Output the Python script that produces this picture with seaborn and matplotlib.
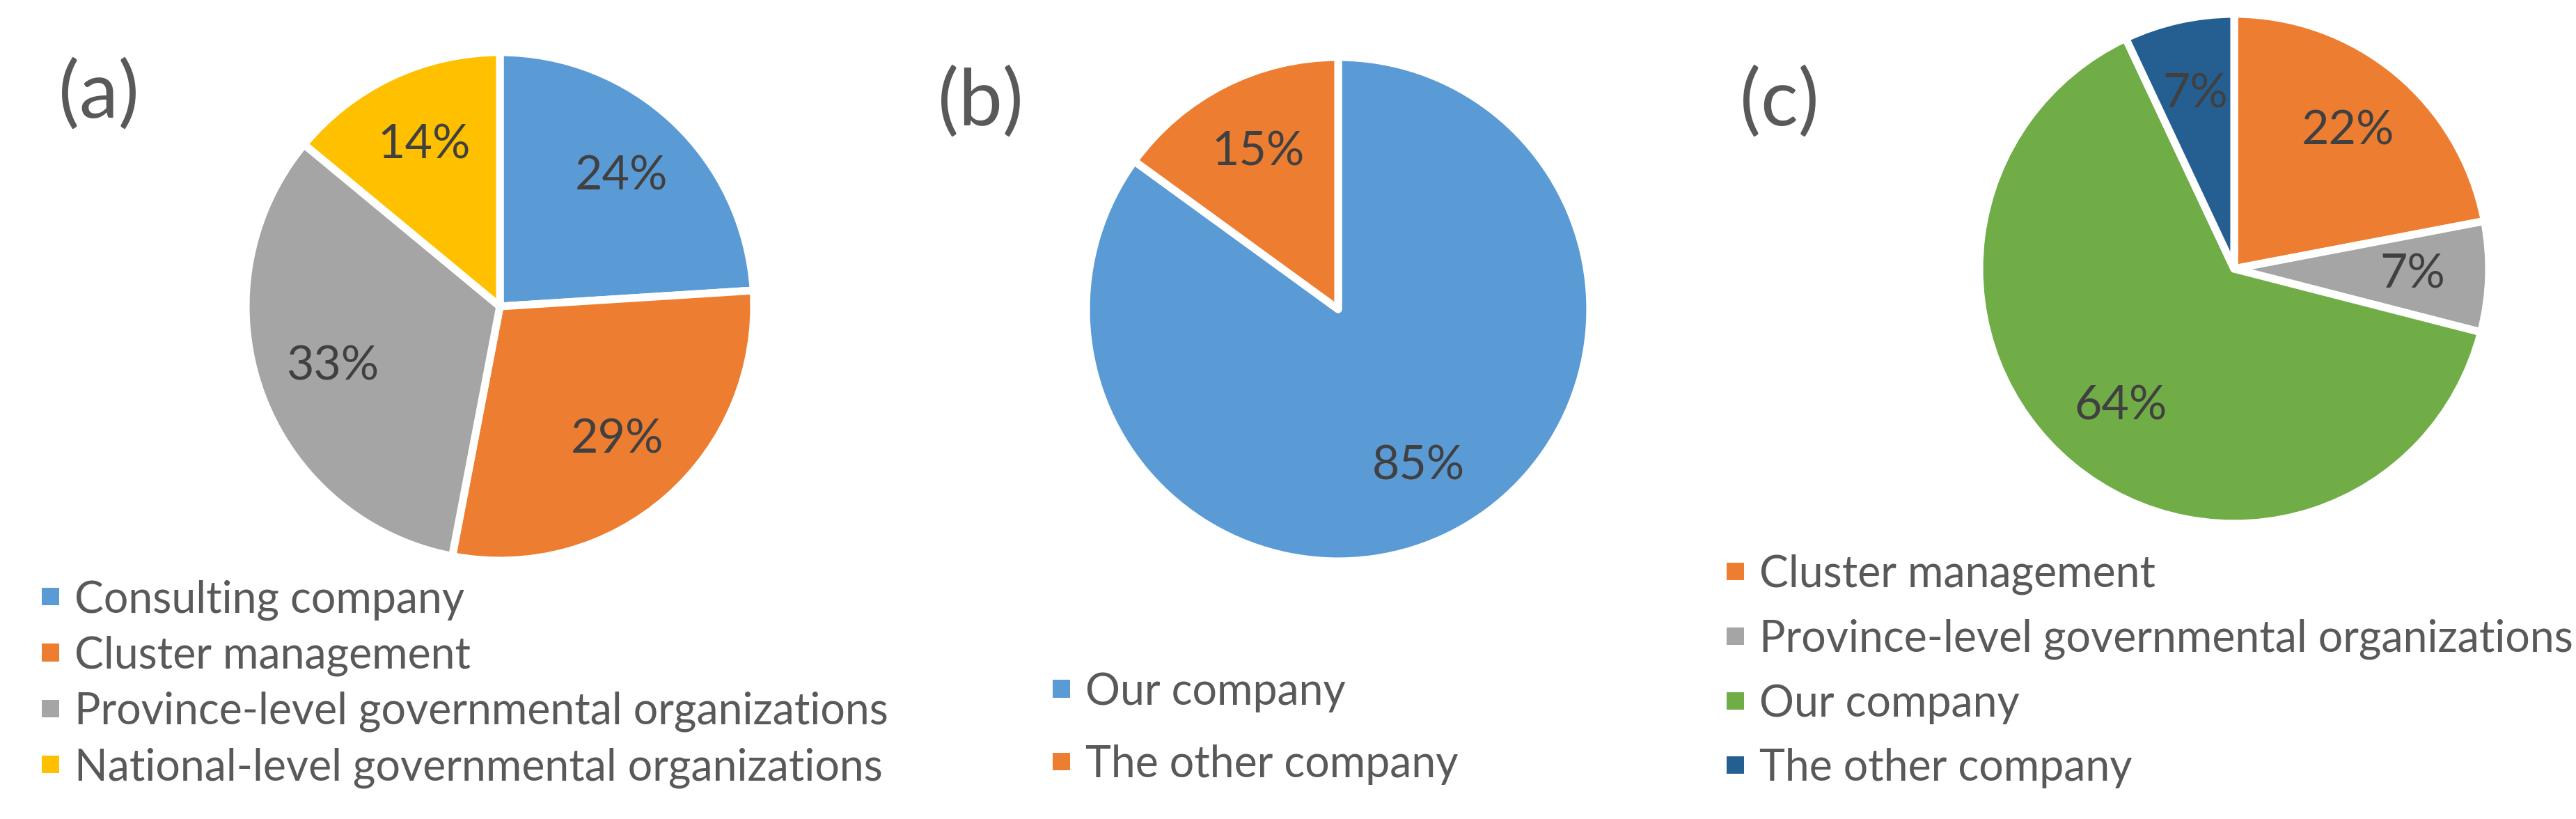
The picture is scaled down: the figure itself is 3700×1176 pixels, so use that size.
import seaborn as sns
import matplotlib.pyplot as plt
from matplotlib.patches import Patch

# (a)
a_labels = [
    "Consulting company",
    "Cluster management",
    "Province-level governmental organizations",
    "National-level governmental organizations",
]
a_values = [24, 29, 33, 14]
a_colors = ["#5B9BD5", "#ED7D31", "#A5A5A5", "#FFC000"]

# (b)
b_labels = ["Our company", "The other company"]
b_values = [85, 15]
b_colors = ["#5B9BD5", "#ED7D31"]

# (c)
c_labels = [
    "Cluster management",
    "Province-level governmental organizations",
    "Our company",
    "The other company",
]
c_values = [22, 7, 64, 7]
c_colors = ["#ED7D31", "#A5A5A5", "#70AD47", "#255E91"]

panel_tags = ["(a)", "(b)", "(c)"]

sns.set_style("white")
plt.rcParams["font.family"] = ["Lato", "DejaVu Sans"]

W, H = 3700, 1176
fig = plt.figure(figsize=(W / 100, H / 100), dpi=100)


def add_pie(cx, cy, r, values, colors):
    lim = 1.1
    ax = fig.add_axes(
        [(cx - lim * r) / W, (H - cy - lim * r) / H, 2 * lim * r / W, 2 * lim * r / H]
    )
    ax.pie(
        values,
        colors=colors,
        startangle=90,
        counterclock=False,
        autopct="%1.0f%%",
        pctdistance=0.7,
        wedgeprops=dict(edgecolor="white", linewidth=8, joinstyle="round"),
        textprops=dict(color="#404040", fontsize=49),
    )
    ax.set_xlim(-lim, lim)
    ax.set_ylim(-lim, lim)
    ax.set_aspect("equal")
    ax.axis("off")
    return ax


def add_legend(labels, colors, x, y, spacing):
    handles = [Patch(facecolor=c, edgecolor="none") for c in colors]
    fig.legend(
        handles,
        labels,
        loc="center left",
        bbox_to_anchor=(x / W, 1 - y / H),
        frameon=False,
        fontsize=45,
        labelcolor="#595959",
        handlelength=0.4,
        handleheight=0.24,
        handletextpad=0.35,
        labelspacing=spacing,
        borderpad=0,
        borderaxespad=0,
    )


add_pie(718, 440, 365, a_values, a_colors)
add_pie(1922, 444, 362, b_values, b_colors)
add_pie(3209, 386, 366, c_values, c_colors)

add_legend(a_labels, a_colors, 60, 982, 0.35)
add_legend(b_labels, b_colors, 1512, 1046, 0.75)
add_legend(c_labels, c_colors, 2480, 964, 0.55)

for tag, (x, y) in zip(panel_tags, [(142, 136), (1409, 147), (2556, 147)]):
    fig.text(x / W, 1 - y / H, tag, fontsize=81, color="#595959", ha="center", va="center")

fig.savefig("out.png", dpi=100)
